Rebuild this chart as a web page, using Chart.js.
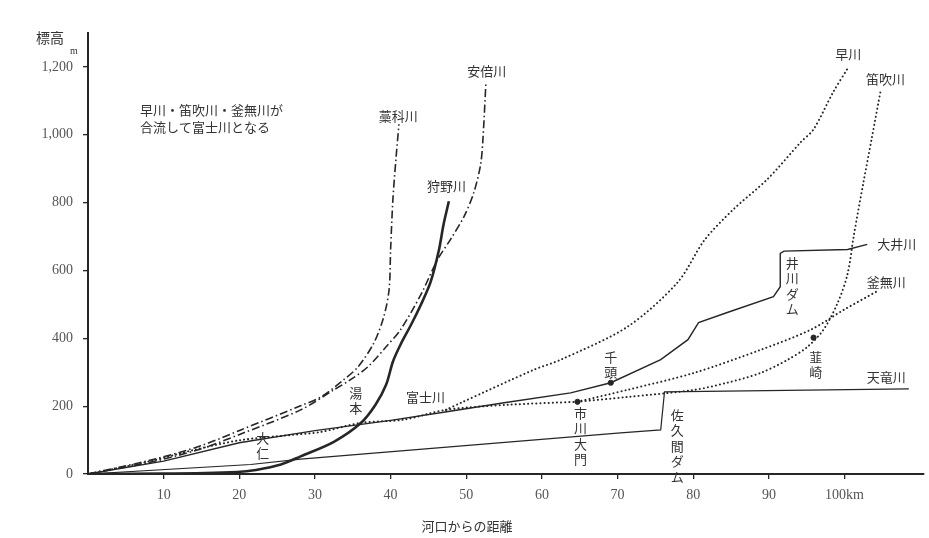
<!DOCTYPE html>
<html lang="ja">
<head>
<meta charset="utf-8">
<title>河川の縦断面</title>
<script src="https://cdn.jsdelivr.net/npm/chart.js@4.4.1/dist/chart.umd.min.js"></script>
<style>
  html, body { margin: 0; padding: 0; background: #fff; }
  #wrap { width: 929px; height: 538px; }
</style>
</head>
<body>
<div id="wrap"><canvas id="profile" width="929" height="538"></canvas></div>
<script>
// jarak dari muara (km) dan ketinggian (m)
const fujiKm      = [0, 8.3, 14, 20.2, 26.8, 30.8, 36.1, 41.7, 47.3, 55.5, 64.7];
const fujiM       = [0, 38, 71, 100, 115, 124, 151, 160, 189, 204, 213];

const hayaKm      = [47.3, 49.3, 58.9, 62.5, 71.3, 77.9, 81.5, 85.3, 89.8, 94.2, 95.9, 98.5, 100.5];
const hayaM       = [189, 210, 307, 337, 434, 564, 690, 780, 869, 978, 1016, 1126, 1199];

const fuefukiKm   = [64.7, 71.3, 80.1, 84.5, 88.9, 92.5, 95.1, 97.2, 99.1, 100.4, 101.2, 102.5, 103.6, 104.8];
const fuefukiM    = [213, 227, 248, 269, 298, 337, 375, 425, 505, 590, 700, 860, 990, 1134];

const kamanashiKm = [64.7, 71.3, 80.1, 88.9, 95.5, 99.9, 104.4];
const kamanashiM  = [213, 248, 298, 366, 425, 484, 540];

const abeKm       = [0, 8.3, 14.9, 20.2, 28.1, 32.5, 34.7, 37.0, 39.4, 41.3, 44.0, 46.2, 47.9, 49.7, 51.0, 51.9, 52.2, 52.6];
const abeM        = [0, 35, 74, 118, 189, 248, 278, 316, 375, 425, 529, 632, 691, 759, 830, 913, 987, 1155];

const warashinaKm = [0, 8.3, 14.9, 20.2, 28.1, 30.8, 33.8, 35.7, 37.8, 39.1, 39.8, 40.0, 40.3, 40.7, 41.1];
const warashinaM  = [0, 41, 83, 130, 201, 227, 278, 316, 387, 464, 544, 662, 809, 928, 1031];

const kanoKm      = [0, 10, 19.7, 22.2, 25.5, 28.1, 32.5, 36.1, 38.0, 39.4, 40.3, 41.3, 42.7, 44.0, 45.3, 46.4, 47.0, 47.7];
const kanoM       = [0, 1, 6, 12, 28, 52, 95, 151, 204, 263, 331, 381, 440, 499, 567, 662, 736, 804];

const oiKm        = [0, 10, 20, 30, 40, 47, 55, 63.8, 69.1, 75.7, 79.3, 80.7, 84.5, 90.6, 91.5, 91.5, 92, 100.4, 103];
const oiM         = [0, 38, 92, 128, 158, 182, 210, 239, 269, 337, 396, 446, 476, 523, 552, 650, 657, 662, 677];

const tenryuKm    = [0, 21.5, 28.1, 70.4, 75.7, 76.2, 108.5];
const tenryuM     = [0, 28, 44, 121, 130, 242, 251];

// titik lokasi (市川大門, 千頭, 韮崎)
const titikKm     = [64.7, 69.1, 95.9];
const titikM      = [213, 269, 402];

// nama sungai & posisinya (km, m)
const namaSungai  = ['早川', '笛吹川', '大井川', '釜無川', '天竜川', '富士川', '藁科川', '安倍川', '狩野川'];
const namaKm      = [100.5, 105.4, 106.9, 105.5, 105.5, 44.6, 41.0, 52.7, 47.4];
const namaM       = [1238, 1164, 677, 567, 287, 227, 1055, 1188, 848];

// nama tempat ditulis vertikal
const namaTempat  = ['韮崎', '井川ダム', '千頭', '市川大門', '佐久間ダム', '湯本', '大仁'];
const tempatKm    = [96.2, 93.1, 69.1, 65.1, 77.9, 35.4, 23.1];
const tempatM     = [346, 623, 346, 180, 174, 239, 106];

const catatan     = ['早川・笛吹川・釜無川が', '合流して富士川となる'];
const tickX       = [10, 20, 30, 40, 50, 60, 70, 80, 90, 100];
const tickY       = [0, 200, 400, 600, 800, 1000, 1200];

const tinta = '#262626';
const fontJp = '"Noto Sans CJK JP", "Noto Sans", sans-serif';
const fontAngka = '"Liberation Serif", "DejaVu Serif", serif';

function gabung(km, m) {
  return km.map((v, i) => ({ x: v, y: m[i] }));
}

const gayaTitik = { borderDash: [0.1, 4], borderCapStyle: 'round', borderWidth: 2 };
const gayaTitikStrip = { borderDash: [8, 3, 1.5, 3], borderWidth: 1.6 };

function garis(label, km, m, gaya, tension) {
  return Object.assign({
    label,
    data: gabung(km, m),
    showLine: true,
    borderColor: tinta,
    backgroundColor: tinta,
    borderWidth: 1.4,
    pointRadius: 0,
    tension: tension
  }, gaya);
}

// plugin buat tulisan-tulisan di dalam gambar
const pluginTeks = {
  id: 'teks',
  afterDraw(chart) {
    const { ctx, chartArea, scales: { x, y } } = chart;
    ctx.save();
    ctx.fillStyle = '#333';
    ctx.textAlign = 'center';
    ctx.textBaseline = 'middle';
    ctx.font = '13px ' + fontJp;

    namaSungai.forEach((t, i) => {
      ctx.fillText(t, x.getPixelForValue(namaKm[i]), y.getPixelForValue(namaM[i]));
    });

    namaTempat.forEach((t, i) => {
      const px = x.getPixelForValue(tempatKm[i]);
      const py = y.getPixelForValue(tempatM[i]);
      [...t].forEach((ch, j) => ctx.fillText(ch, px, py + j * 15.5));
    });

    ctx.textAlign = 'left';
    catatan.forEach((t, i) => ctx.fillText(t, chartArea.left + 52, chartArea.top + 77 + i * 17));

    // judul sumbu
    ctx.textAlign = 'center';
    ctx.font = '14px ' + fontJp;
    ctx.fillText('標高', 50, 38);
    ctx.font = '13px ' + fontJp;
    ctx.fillText('河口からの距離', 467, 526);
    ctx.font = '10px ' + fontAngka;
    ctx.fillText('m', 74, 51);
    ctx.restore();
  }
};

new Chart(document.getElementById('profile'), {
  type: 'scatter',
  data: {
    datasets: [
      garis('富士川', fujiKm, fujiM, gayaTitik, 0.3),
      garis('早川', hayaKm, hayaM, gayaTitik, 0.3),
      garis('笛吹川', fuefukiKm, fuefukiM, gayaTitik, 0.3),
      garis('釜無川', kamanashiKm, kamanashiM, gayaTitik, 0.3),
      garis('安倍川', abeKm, abeM, gayaTitikStrip, 0.3),
      garis('藁科川', warashinaKm, warashinaM, gayaTitikStrip, 0.3),
      garis('狩野川', kanoKm, kanoM, { borderWidth: 2.6 }, 0.3),
      garis('大井川', oiKm, oiM, { borderWidth: 1.4 }, 0),
      garis('天竜川', tenryuKm, tenryuM, { borderWidth: 1.2 }, 0),
      {
        label: '地点',
        data: gabung(titikKm, titikM),
        showLine: false,
        pointRadius: 2.6,
        pointBackgroundColor: tinta,
        pointBorderColor: tinta
      }
    ]
  },
  options: {
    responsive: false,
    animation: false,
    layout: { padding: { top: 33, right: 4, left: 0, bottom: 0 } },
    plugins: {
      legend: { display: false },
      tooltip: { enabled: false }
    },
    scales: {
      x: {
        type: 'linear',
        min: 0,
        max: 110.5,
        afterFit: s => { s.height = 64; },
        afterBuildTicks: s => { s.ticks = tickX.map(v => ({ value: v })); },
        grid: { drawOnChartArea: false, tickLength: 5, color: tinta, lineWidth: 1.3 },
        border: { display: true, color: tinta, width: 2 },
        ticks: {
          padding: 8,
          color: '#555',
          font: { family: fontAngka, size: 14 },
          maxRotation: 0,
          callback: v => (v === 100 ? '100km' : String(v))
        }
      },
      y: {
        type: 'linear',
        min: 0,
        max: 1300,
        afterFit: s => { s.width = 88; },
        afterBuildTicks: s => { s.ticks = tickY.map(v => ({ value: v })); },
        grid: { drawOnChartArea: false, tickLength: 5, color: tinta, lineWidth: 1.3 },
        border: { display: true, color: tinta, width: 2 },
        ticks: {
          padding: 10,
          color: '#555',
          font: { family: fontAngka, size: 14 },
          callback: v => v.toLocaleString('en-US')
        }
      }
    }
  },
  plugins: [pluginTeks]
});
</script>
</body>
</html>
